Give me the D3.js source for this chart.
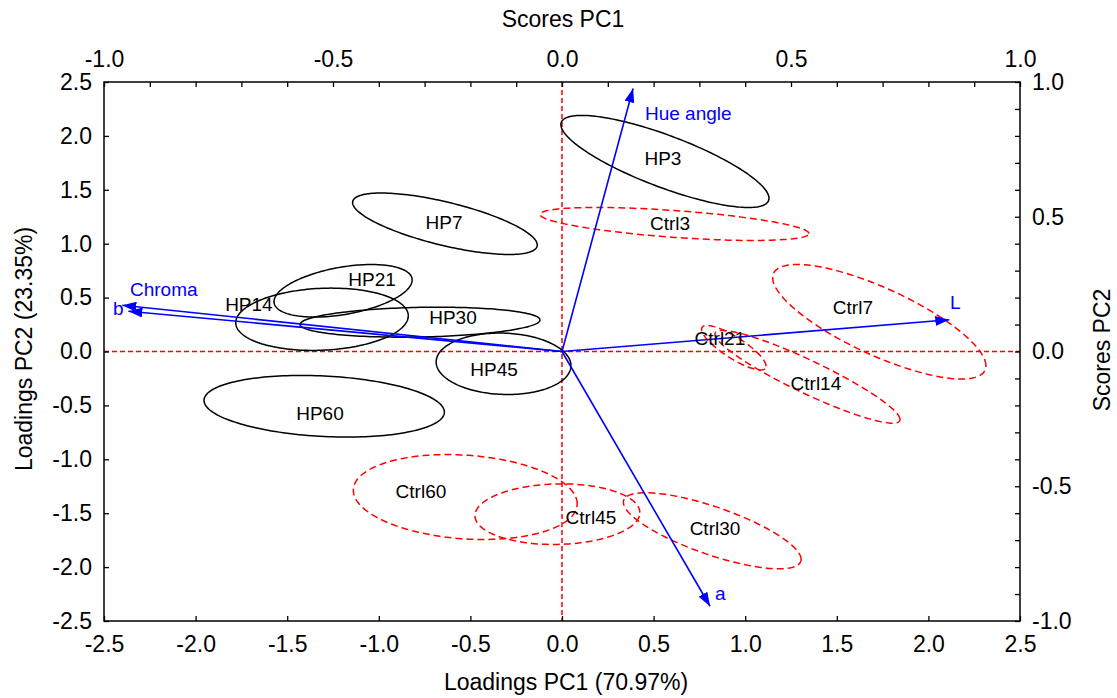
<!DOCTYPE html>
<html>
<head>
<meta charset="utf-8">
<script src="https://cdn.jsdelivr.net/npm/d3@7"></script>
<style>
  body { margin: 0; background: #fff; }
  text { font-family: "Liberation Sans", Arial, sans-serif; }
</style>
</head>
<body>
<svg id="chart" width="1117" height="698"></svg>
<script>
// group ellipses (loadings units): centre, half width, half height, correlation
const groupNames = ['HP3', 'HP7', 'HP14', 'HP21', 'HP30', 'HP45', 'HP60',
  'Ctrl3', 'Ctrl7', 'Ctrl14', 'Ctrl21', 'Ctrl30', 'Ctrl45', 'Ctrl60'];
const groupCx = [0.562, -0.639, -1.310, -1.195, -0.775, -0.319, -1.298,
  0.614, 1.732, 1.340, 0.938, 0.820, -0.025, -0.528];
const groupCy = [1.763, 1.185, 0.299, 0.563, 0.272, -0.114, -0.508,
  1.183, 0.276, -0.235, 0.035, -1.663, -1.509, -1.350];
const groupSx = [0.568, 0.504, 0.471, 0.377, 0.655, 0.368, 0.656,
  0.734, 0.582, 0.505, 0.176, 0.485, 0.450, 0.611];
const groupSy = [0.427, 0.285, 0.289, 0.244, 0.139, 0.285, 0.286,
  0.153, 0.531, 0.430, 0.206, 0.353, 0.281, 0.394];
const groupR = [-0.80, -0.69, 0.11, 0.41, 0.15, -0.06, -0.19,
  -0.58, -0.77, -0.92, -0.83, -0.75, 0.05, -0.16];
const groupLabelX = [0.551, -0.644, -1.709, -1.037, -0.595, -0.371, -1.321,
  0.590, 1.588, 1.386, 0.862, 0.835, 0.158, -0.770];
const groupLabelY = [1.790, 1.197, 0.436, 0.668, 0.315, -0.167, -0.575,
  1.187, 0.408, -0.297, 0.121, -1.642, -1.540, -1.299];

// variable loadings (arrow tips)
const varNames = ['Hue angle', 'L', 'a', 'Chroma', 'b'];
const varX = [0.388, 2.114, 0.808, -2.400, -2.367];
const varY = [2.440, 0.294, -2.363, 0.429, 0.374];
const varLabelX = [0.453, 2.118, 0.835, -2.358, -2.451];
const varLabelY = [2.208, 0.457, -2.242, 0.572, 0.396];

// axis ticks
const loadTicks = [-2.5, -2.0, -1.5, -1.0, -0.5, 0.0, 0.5, 1.0, 1.5, 2.0, 2.5];
const scoreTicks = [-1.0, -0.9, -0.8, -0.7, -0.6, -0.5, -0.4, -0.3, -0.2, -0.1, 0.0,
  0.1, 0.2, 0.3, 0.4, 0.5, 0.6, 0.7, 0.8, 0.9, 1.0];
const scoreLabels = [-1.0, -0.5, 0.0, 0.5, 1.0];

const margin = { top: 82, right: 97, bottom: 77, left: 104 };
const W = 1117, H = 698;

const svg = d3.select('#chart');

const xL = d3.scaleLinear().domain([-2.5, 2.5]).range([margin.left, W - margin.right]);
const yL = d3.scaleLinear().domain([-2.5, 2.5]).range([H - margin.bottom, margin.top]);
const xS = d3.scaleLinear().domain([-1, 1]).range([margin.left, W - margin.right]);
const yS = d3.scaleLinear().domain([-1, 1]).range([H - margin.bottom, margin.top]);

const fmt = d => d.toFixed(1);
const fmtScore = d => scoreLabels.some(v => Math.abs(v - d) < 1e-9) ? d.toFixed(1) : '';

// reference lines at 0
svg.append('line')
  .attr('x1', xL(0)).attr('x2', xL(0))
  .attr('y1', yL(2.5)).attr('y2', yL(-2.5))
  .attr('stroke', '#ff0000').attr('stroke-width', 1.5)
  .attr('stroke-dasharray', '5,3');
svg.append('line')
  .attr('x1', xL(-2.5)).attr('x2', xL(2.5))
  .attr('y1', yL(0)).attr('y2', yL(0))
  .attr('stroke', '#ff0000').attr('stroke-width', 1.5)
  .attr('stroke-dasharray', '5,3');

// ellipses
const angles = d3.range(0, 361, 2).map(a => a * Math.PI / 180);
const line = d3.line().x(p => xL(p[0])).y(p => yL(p[1]));

groupNames.forEach((name, i) => {
  const r = groupR[i];
  const pts = angles.map(t => [
    groupCx[i] + groupSx[i] * Math.cos(t),
    groupCy[i] + groupSy[i] * (r * Math.cos(t) + Math.sqrt(1 - r * r) * Math.sin(t))
  ]);
  const isCtrl = name.startsWith('Ctrl');
  svg.append('path')
    .attr('d', line(pts))
    .attr('fill', 'none')
    .attr('stroke', isCtrl ? '#ff0000' : '#000')
    .attr('stroke-width', 1.5)
    .attr('stroke-dasharray', isCtrl ? '7,4' : null);
});

// arrows
svg.append('defs').append('marker')
  .attr('id', 'head')
  .attr('viewBox', '0 0 14 10')
  .attr('refX', 14).attr('refY', 5)
  .attr('markerWidth', 14).attr('markerHeight', 10)
  .attr('markerUnits', 'userSpaceOnUse')
  .attr('orient', 'auto')
  .append('path')
  .attr('d', 'M0,0 L14,5 L0,10 Z')
  .attr('fill', '#0000ff');

varNames.forEach((name, i) => {
  svg.append('line')
    .attr('x1', xL(0)).attr('y1', yL(0))
    .attr('x2', xL(varX[i])).attr('y2', yL(varY[i]))
    .attr('stroke', '#0000ff').attr('stroke-width', 1.6)
    .attr('marker-end', 'url(#head)');
  svg.append('text')
    .attr('x', xL(varLabelX[i])).attr('y', yL(varLabelY[i]))
    .attr('dy', '0.35em')
    .style('font-size', '19px')
    .style('fill', '#0000ff')
    .text(name);
});

// group labels
groupNames.forEach((name, i) => {
  svg.append('text')
    .attr('x', xL(groupLabelX[i])).attr('y', yL(groupLabelY[i]))
    .attr('dy', '0.35em')
    .attr('text-anchor', 'middle')
    .style('font-size', '19px')
    .style('fill', '#000')
    .text(name);
});

// axes
function styleAxis(g) {
  g.select('.domain').remove();
  g.selectAll('line').attr('stroke', '#000').attr('stroke-width', 1.3);
  g.selectAll('text').style('font-size', '23px').style('fill', '#000')
    .style('font-family', '"Liberation Sans", Arial, sans-serif');
}

svg.append('g')
  .attr('transform', `translate(0,${yL(-2.5)})`)
  .call(d3.axisBottom(xL).tickValues(loadTicks).tickFormat(fmt)
    .tickSizeInner(-5).tickSizeOuter(0).tickPadding(15))
  .call(styleAxis);

svg.append('g')
  .attr('transform', `translate(${xL(-2.5)},0)`)
  .call(d3.axisLeft(yL).tickValues(loadTicks).tickFormat(fmt)
    .tickSizeInner(-5).tickSizeOuter(0).tickPadding(12))
  .call(styleAxis);

svg.append('g')
  .attr('transform', `translate(0,${yL(2.5)})`)
  .call(d3.axisTop(xS).tickValues(scoreTicks).tickFormat(fmtScore)
    .tickSizeInner(-5).tickSizeOuter(0).tickPadding(15))
  .call(styleAxis);

svg.append('g')
  .attr('transform', `translate(${xL(2.5)},0)`)
  .call(d3.axisRight(yS).tickValues(scoreTicks).tickFormat(fmtScore)
    .tickSizeInner(-5).tickSizeOuter(0).tickPadding(12))
  .call(styleAxis);

// frame
svg.append('rect')
  .attr('x', xL(-2.5)).attr('y', yL(2.5))
  .attr('width', xL(2.5) - xL(-2.5)).attr('height', yL(-2.5) - yL(2.5))
  .attr('fill', 'none').attr('stroke', '#000').attr('stroke-width', 1.5);

// axis titles
svg.append('text')
  .attr('x', 566).attr('y', 690)
  .attr('text-anchor', 'middle')
  .style('font-size', '23px')
  .text('Loadings PC1 (70.97%)');

svg.append('text')
  .attr('x', 563).attr('y', 27)
  .attr('text-anchor', 'middle')
  .style('font-size', '23px')
  .text('Scores PC1');

svg.append('text')
  .attr('transform', 'translate(32,349) rotate(-90)')
  .attr('text-anchor', 'middle')
  .style('font-size', '23px')
  .text('Loadings PC2 (23.35%)');

svg.append('text')
  .attr('transform', 'translate(1110,350) rotate(-90)')
  .attr('text-anchor', 'middle')
  .style('font-size', '23px')
  .text('Scores PC2');
</script>
</body>
</html>
